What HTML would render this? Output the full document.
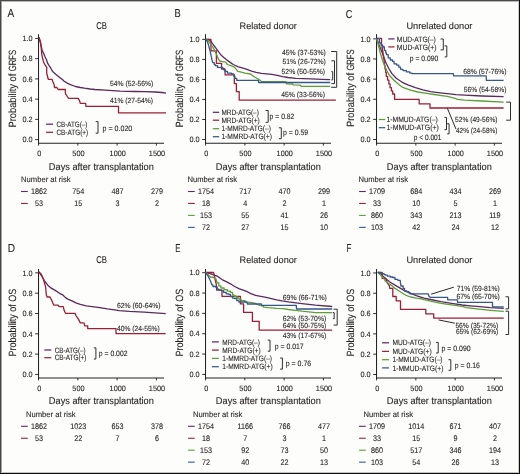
<!DOCTYPE html>
<html><head><meta charset="utf-8"><style>
html,body{margin:0;padding:0;background:#fdfdfc;width:520px;height:474px;overflow:hidden;}
svg{display:block;will-change:transform;}
text{font-family:"Liberation Sans",sans-serif;text-rendering:geometricPrecision;fill:#231f20;stroke:#231f20;stroke-width:0.1px;}
</style></head><body>
<svg width="520" height="474" viewBox="0 0 520 474">
<rect x="0" y="0" width="520" height="474" fill="#fdfdfc"/>
<line x1="38.56" y1="34.20" x2="38.56" y2="143.70" stroke="#1a1a1a" stroke-width="1.0"/>
<line x1="38.06" y1="143.20" x2="164.00" y2="143.20" stroke="#222" stroke-width="1.15"/>
<line x1="35.16" y1="139.60" x2="38.56" y2="139.60" stroke="#1a1a1a" stroke-width="0.9"/>
<text x="32.56" y="142.30" font-size="7.7" text-anchor="end" textLength="10.17" lengthAdjust="spacingAndGlyphs">0.0</text>
<line x1="35.16" y1="119.37" x2="38.56" y2="119.37" stroke="#1a1a1a" stroke-width="0.9"/>
<text x="32.56" y="122.07" font-size="7.7" text-anchor="end" textLength="10.17" lengthAdjust="spacingAndGlyphs">0.2</text>
<line x1="35.16" y1="99.14" x2="38.56" y2="99.14" stroke="#1a1a1a" stroke-width="0.9"/>
<text x="32.56" y="101.84" font-size="7.7" text-anchor="end" textLength="10.17" lengthAdjust="spacingAndGlyphs">0.4</text>
<line x1="35.16" y1="78.91" x2="38.56" y2="78.91" stroke="#1a1a1a" stroke-width="0.9"/>
<text x="32.56" y="81.61" font-size="7.7" text-anchor="end" textLength="10.17" lengthAdjust="spacingAndGlyphs">0.6</text>
<line x1="35.16" y1="58.68" x2="38.56" y2="58.68" stroke="#1a1a1a" stroke-width="0.9"/>
<text x="32.56" y="61.38" font-size="7.7" text-anchor="end" textLength="10.17" lengthAdjust="spacingAndGlyphs">0.8</text>
<line x1="35.16" y1="38.45" x2="38.56" y2="38.45" stroke="#1a1a1a" stroke-width="0.9"/>
<text x="32.56" y="41.15" font-size="7.7" text-anchor="end" textLength="10.17" lengthAdjust="spacingAndGlyphs">1.0</text>
<line x1="38.56" y1="143.20" x2="38.56" y2="145.60" stroke="#1a1a1a" stroke-width="0.9"/>
<text x="39.16" y="156.10" font-size="7.7" text-anchor="middle" textLength="4.07" lengthAdjust="spacingAndGlyphs">0</text>
<line x1="77.84" y1="143.20" x2="77.84" y2="145.60" stroke="#1a1a1a" stroke-width="0.9"/>
<text x="78.44" y="156.10" font-size="7.7" text-anchor="middle" textLength="12.20" lengthAdjust="spacingAndGlyphs">500</text>
<line x1="117.12" y1="143.20" x2="117.12" y2="145.60" stroke="#1a1a1a" stroke-width="0.9"/>
<text x="117.72" y="156.10" font-size="7.7" text-anchor="middle" textLength="16.27" lengthAdjust="spacingAndGlyphs">1000</text>
<line x1="156.40" y1="143.20" x2="156.40" y2="145.60" stroke="#1a1a1a" stroke-width="0.9"/>
<text x="157.00" y="156.10" font-size="7.7" text-anchor="middle" textLength="16.27" lengthAdjust="spacingAndGlyphs">1500</text>
<line x1="205.56" y1="34.20" x2="205.56" y2="143.70" stroke="#1a1a1a" stroke-width="1.0"/>
<line x1="205.06" y1="143.20" x2="331.00" y2="143.20" stroke="#222" stroke-width="1.15"/>
<line x1="202.16" y1="139.50" x2="205.56" y2="139.50" stroke="#1a1a1a" stroke-width="0.9"/>
<text x="199.56" y="142.20" font-size="7.7" text-anchor="end" textLength="10.17" lengthAdjust="spacingAndGlyphs">0.0</text>
<line x1="202.16" y1="119.48" x2="205.56" y2="119.48" stroke="#1a1a1a" stroke-width="0.9"/>
<text x="199.56" y="122.18" font-size="7.7" text-anchor="end" textLength="10.17" lengthAdjust="spacingAndGlyphs">0.2</text>
<line x1="202.16" y1="99.46" x2="205.56" y2="99.46" stroke="#1a1a1a" stroke-width="0.9"/>
<text x="199.56" y="102.16" font-size="7.7" text-anchor="end" textLength="10.17" lengthAdjust="spacingAndGlyphs">0.4</text>
<line x1="202.16" y1="79.44" x2="205.56" y2="79.44" stroke="#1a1a1a" stroke-width="0.9"/>
<text x="199.56" y="82.14" font-size="7.7" text-anchor="end" textLength="10.17" lengthAdjust="spacingAndGlyphs">0.6</text>
<line x1="202.16" y1="59.42" x2="205.56" y2="59.42" stroke="#1a1a1a" stroke-width="0.9"/>
<text x="199.56" y="62.12" font-size="7.7" text-anchor="end" textLength="10.17" lengthAdjust="spacingAndGlyphs">0.8</text>
<line x1="202.16" y1="39.40" x2="205.56" y2="39.40" stroke="#1a1a1a" stroke-width="0.9"/>
<text x="199.56" y="42.10" font-size="7.7" text-anchor="end" textLength="10.17" lengthAdjust="spacingAndGlyphs">1.0</text>
<line x1="205.56" y1="143.20" x2="205.56" y2="145.60" stroke="#1a1a1a" stroke-width="0.9"/>
<text x="206.16" y="156.10" font-size="7.7" text-anchor="middle" textLength="4.07" lengthAdjust="spacingAndGlyphs">0</text>
<line x1="244.84" y1="143.20" x2="244.84" y2="145.60" stroke="#1a1a1a" stroke-width="0.9"/>
<text x="245.44" y="156.10" font-size="7.7" text-anchor="middle" textLength="12.20" lengthAdjust="spacingAndGlyphs">500</text>
<line x1="284.12" y1="143.20" x2="284.12" y2="145.60" stroke="#1a1a1a" stroke-width="0.9"/>
<text x="284.72" y="156.10" font-size="7.7" text-anchor="middle" textLength="16.27" lengthAdjust="spacingAndGlyphs">1000</text>
<line x1="323.40" y1="143.20" x2="323.40" y2="145.60" stroke="#1a1a1a" stroke-width="0.9"/>
<text x="324.00" y="156.10" font-size="7.7" text-anchor="middle" textLength="16.27" lengthAdjust="spacingAndGlyphs">1500</text>
<line x1="376.56" y1="34.20" x2="376.56" y2="143.70" stroke="#1a1a1a" stroke-width="1.0"/>
<line x1="376.06" y1="143.20" x2="502.00" y2="143.20" stroke="#222" stroke-width="1.15"/>
<line x1="373.16" y1="139.50" x2="376.56" y2="139.50" stroke="#1a1a1a" stroke-width="0.9"/>
<text x="370.56" y="142.20" font-size="7.7" text-anchor="end" textLength="10.17" lengthAdjust="spacingAndGlyphs">0.0</text>
<line x1="373.16" y1="119.37" x2="376.56" y2="119.37" stroke="#1a1a1a" stroke-width="0.9"/>
<text x="370.56" y="122.07" font-size="7.7" text-anchor="end" textLength="10.17" lengthAdjust="spacingAndGlyphs">0.2</text>
<line x1="373.16" y1="99.24" x2="376.56" y2="99.24" stroke="#1a1a1a" stroke-width="0.9"/>
<text x="370.56" y="101.94" font-size="7.7" text-anchor="end" textLength="10.17" lengthAdjust="spacingAndGlyphs">0.4</text>
<line x1="373.16" y1="79.11" x2="376.56" y2="79.11" stroke="#1a1a1a" stroke-width="0.9"/>
<text x="370.56" y="81.81" font-size="7.7" text-anchor="end" textLength="10.17" lengthAdjust="spacingAndGlyphs">0.6</text>
<line x1="373.16" y1="58.98" x2="376.56" y2="58.98" stroke="#1a1a1a" stroke-width="0.9"/>
<text x="370.56" y="61.68" font-size="7.7" text-anchor="end" textLength="10.17" lengthAdjust="spacingAndGlyphs">0.8</text>
<line x1="373.16" y1="38.85" x2="376.56" y2="38.85" stroke="#1a1a1a" stroke-width="0.9"/>
<text x="370.56" y="41.55" font-size="7.7" text-anchor="end" textLength="10.17" lengthAdjust="spacingAndGlyphs">1.0</text>
<line x1="376.56" y1="143.20" x2="376.56" y2="145.60" stroke="#1a1a1a" stroke-width="0.9"/>
<text x="377.16" y="156.10" font-size="7.7" text-anchor="middle" textLength="4.07" lengthAdjust="spacingAndGlyphs">0</text>
<line x1="415.84" y1="143.20" x2="415.84" y2="145.60" stroke="#1a1a1a" stroke-width="0.9"/>
<text x="416.44" y="156.10" font-size="7.7" text-anchor="middle" textLength="12.20" lengthAdjust="spacingAndGlyphs">500</text>
<line x1="455.12" y1="143.20" x2="455.12" y2="145.60" stroke="#1a1a1a" stroke-width="0.9"/>
<text x="455.72" y="156.10" font-size="7.7" text-anchor="middle" textLength="16.27" lengthAdjust="spacingAndGlyphs">1000</text>
<line x1="494.40" y1="143.20" x2="494.40" y2="145.60" stroke="#1a1a1a" stroke-width="0.9"/>
<text x="495.00" y="156.10" font-size="7.7" text-anchor="middle" textLength="16.27" lengthAdjust="spacingAndGlyphs">1500</text>
<line x1="38.56" y1="269.00" x2="38.56" y2="378.50" stroke="#1a1a1a" stroke-width="1.0"/>
<line x1="38.06" y1="378.00" x2="164.00" y2="378.00" stroke="#222" stroke-width="1.15"/>
<line x1="35.16" y1="374.45" x2="38.56" y2="374.45" stroke="#1a1a1a" stroke-width="0.9"/>
<text x="32.56" y="377.15" font-size="7.7" text-anchor="end" textLength="10.17" lengthAdjust="spacingAndGlyphs">0.0</text>
<line x1="35.16" y1="354.13" x2="38.56" y2="354.13" stroke="#1a1a1a" stroke-width="0.9"/>
<text x="32.56" y="356.83" font-size="7.7" text-anchor="end" textLength="10.17" lengthAdjust="spacingAndGlyphs">0.2</text>
<line x1="35.16" y1="333.81" x2="38.56" y2="333.81" stroke="#1a1a1a" stroke-width="0.9"/>
<text x="32.56" y="336.51" font-size="7.7" text-anchor="end" textLength="10.17" lengthAdjust="spacingAndGlyphs">0.4</text>
<line x1="35.16" y1="313.49" x2="38.56" y2="313.49" stroke="#1a1a1a" stroke-width="0.9"/>
<text x="32.56" y="316.19" font-size="7.7" text-anchor="end" textLength="10.17" lengthAdjust="spacingAndGlyphs">0.6</text>
<line x1="35.16" y1="293.17" x2="38.56" y2="293.17" stroke="#1a1a1a" stroke-width="0.9"/>
<text x="32.56" y="295.87" font-size="7.7" text-anchor="end" textLength="10.17" lengthAdjust="spacingAndGlyphs">0.8</text>
<line x1="35.16" y1="272.85" x2="38.56" y2="272.85" stroke="#1a1a1a" stroke-width="0.9"/>
<text x="32.56" y="275.55" font-size="7.7" text-anchor="end" textLength="10.17" lengthAdjust="spacingAndGlyphs">1.0</text>
<line x1="38.56" y1="378.00" x2="38.56" y2="380.40" stroke="#1a1a1a" stroke-width="0.9"/>
<text x="39.16" y="390.90" font-size="7.7" text-anchor="middle" textLength="4.07" lengthAdjust="spacingAndGlyphs">0</text>
<line x1="77.84" y1="378.00" x2="77.84" y2="380.40" stroke="#1a1a1a" stroke-width="0.9"/>
<text x="78.44" y="390.90" font-size="7.7" text-anchor="middle" textLength="12.20" lengthAdjust="spacingAndGlyphs">500</text>
<line x1="117.12" y1="378.00" x2="117.12" y2="380.40" stroke="#1a1a1a" stroke-width="0.9"/>
<text x="117.72" y="390.90" font-size="7.7" text-anchor="middle" textLength="16.27" lengthAdjust="spacingAndGlyphs">1000</text>
<line x1="156.40" y1="378.00" x2="156.40" y2="380.40" stroke="#1a1a1a" stroke-width="0.9"/>
<text x="157.00" y="390.90" font-size="7.7" text-anchor="middle" textLength="16.27" lengthAdjust="spacingAndGlyphs">1500</text>
<line x1="205.56" y1="269.00" x2="205.56" y2="378.50" stroke="#1a1a1a" stroke-width="1.0"/>
<line x1="205.06" y1="378.00" x2="331.00" y2="378.00" stroke="#222" stroke-width="1.15"/>
<line x1="202.16" y1="374.40" x2="205.56" y2="374.40" stroke="#1a1a1a" stroke-width="0.9"/>
<text x="199.56" y="377.10" font-size="7.7" text-anchor="end" textLength="10.17" lengthAdjust="spacingAndGlyphs">0.0</text>
<line x1="202.16" y1="354.06" x2="205.56" y2="354.06" stroke="#1a1a1a" stroke-width="0.9"/>
<text x="199.56" y="356.76" font-size="7.7" text-anchor="end" textLength="10.17" lengthAdjust="spacingAndGlyphs">0.2</text>
<line x1="202.16" y1="333.72" x2="205.56" y2="333.72" stroke="#1a1a1a" stroke-width="0.9"/>
<text x="199.56" y="336.42" font-size="7.7" text-anchor="end" textLength="10.17" lengthAdjust="spacingAndGlyphs">0.4</text>
<line x1="202.16" y1="313.38" x2="205.56" y2="313.38" stroke="#1a1a1a" stroke-width="0.9"/>
<text x="199.56" y="316.08" font-size="7.7" text-anchor="end" textLength="10.17" lengthAdjust="spacingAndGlyphs">0.6</text>
<line x1="202.16" y1="293.04" x2="205.56" y2="293.04" stroke="#1a1a1a" stroke-width="0.9"/>
<text x="199.56" y="295.74" font-size="7.7" text-anchor="end" textLength="10.17" lengthAdjust="spacingAndGlyphs">0.8</text>
<line x1="202.16" y1="272.70" x2="205.56" y2="272.70" stroke="#1a1a1a" stroke-width="0.9"/>
<text x="199.56" y="275.40" font-size="7.7" text-anchor="end" textLength="10.17" lengthAdjust="spacingAndGlyphs">1.0</text>
<line x1="205.56" y1="378.00" x2="205.56" y2="380.40" stroke="#1a1a1a" stroke-width="0.9"/>
<text x="206.16" y="390.90" font-size="7.7" text-anchor="middle" textLength="4.07" lengthAdjust="spacingAndGlyphs">0</text>
<line x1="244.84" y1="378.00" x2="244.84" y2="380.40" stroke="#1a1a1a" stroke-width="0.9"/>
<text x="245.44" y="390.90" font-size="7.7" text-anchor="middle" textLength="12.20" lengthAdjust="spacingAndGlyphs">500</text>
<line x1="284.12" y1="378.00" x2="284.12" y2="380.40" stroke="#1a1a1a" stroke-width="0.9"/>
<text x="284.72" y="390.90" font-size="7.7" text-anchor="middle" textLength="16.27" lengthAdjust="spacingAndGlyphs">1000</text>
<line x1="323.40" y1="378.00" x2="323.40" y2="380.40" stroke="#1a1a1a" stroke-width="0.9"/>
<text x="324.00" y="390.90" font-size="7.7" text-anchor="middle" textLength="16.27" lengthAdjust="spacingAndGlyphs">1500</text>
<line x1="376.56" y1="269.00" x2="376.56" y2="378.50" stroke="#1a1a1a" stroke-width="1.0"/>
<line x1="376.06" y1="378.00" x2="502.00" y2="378.00" stroke="#222" stroke-width="1.15"/>
<line x1="373.16" y1="374.50" x2="376.56" y2="374.50" stroke="#1a1a1a" stroke-width="0.9"/>
<text x="370.56" y="377.20" font-size="7.7" text-anchor="end" textLength="10.17" lengthAdjust="spacingAndGlyphs">0.0</text>
<line x1="373.16" y1="354.19" x2="376.56" y2="354.19" stroke="#1a1a1a" stroke-width="0.9"/>
<text x="370.56" y="356.89" font-size="7.7" text-anchor="end" textLength="10.17" lengthAdjust="spacingAndGlyphs">0.2</text>
<line x1="373.16" y1="333.88" x2="376.56" y2="333.88" stroke="#1a1a1a" stroke-width="0.9"/>
<text x="370.56" y="336.58" font-size="7.7" text-anchor="end" textLength="10.17" lengthAdjust="spacingAndGlyphs">0.4</text>
<line x1="373.16" y1="313.57" x2="376.56" y2="313.57" stroke="#1a1a1a" stroke-width="0.9"/>
<text x="370.56" y="316.27" font-size="7.7" text-anchor="end" textLength="10.17" lengthAdjust="spacingAndGlyphs">0.6</text>
<line x1="373.16" y1="293.26" x2="376.56" y2="293.26" stroke="#1a1a1a" stroke-width="0.9"/>
<text x="370.56" y="295.96" font-size="7.7" text-anchor="end" textLength="10.17" lengthAdjust="spacingAndGlyphs">0.8</text>
<line x1="373.16" y1="272.95" x2="376.56" y2="272.95" stroke="#1a1a1a" stroke-width="0.9"/>
<text x="370.56" y="275.65" font-size="7.7" text-anchor="end" textLength="10.17" lengthAdjust="spacingAndGlyphs">1.0</text>
<line x1="376.56" y1="378.00" x2="376.56" y2="380.40" stroke="#1a1a1a" stroke-width="0.9"/>
<text x="377.16" y="390.90" font-size="7.7" text-anchor="middle" textLength="4.07" lengthAdjust="spacingAndGlyphs">0</text>
<line x1="415.84" y1="378.00" x2="415.84" y2="380.40" stroke="#1a1a1a" stroke-width="0.9"/>
<text x="416.44" y="390.90" font-size="7.7" text-anchor="middle" textLength="12.20" lengthAdjust="spacingAndGlyphs">500</text>
<line x1="455.12" y1="378.00" x2="455.12" y2="380.40" stroke="#1a1a1a" stroke-width="0.9"/>
<text x="455.72" y="390.90" font-size="7.7" text-anchor="middle" textLength="16.27" lengthAdjust="spacingAndGlyphs">1000</text>
<line x1="494.40" y1="378.00" x2="494.40" y2="380.40" stroke="#1a1a1a" stroke-width="0.9"/>
<text x="495.00" y="390.90" font-size="7.7" text-anchor="middle" textLength="16.27" lengthAdjust="spacingAndGlyphs">1500</text>
<text x="7.50" y="17.40" font-size="11.5" textLength="6.70" lengthAdjust="spacingAndGlyphs">A</text>
<text x="174.60" y="17.40" font-size="11.5" textLength="6.20" lengthAdjust="spacingAndGlyphs">B</text>
<text x="345.70" y="17.50" font-size="11.5" textLength="6.60" lengthAdjust="spacingAndGlyphs">C</text>
<text x="7.80" y="251.80" font-size="11.5" textLength="7.30" lengthAdjust="spacingAndGlyphs">D</text>
<text x="175.20" y="251.80" font-size="11.5" textLength="5.20" lengthAdjust="spacingAndGlyphs">E</text>
<text x="346.60" y="251.80" font-size="11.5" textLength="4.90" lengthAdjust="spacingAndGlyphs">F</text>
<text x="101.60" y="28.70" font-size="9.9" text-anchor="middle" textLength="10.80" lengthAdjust="spacingAndGlyphs">CB</text>
<text x="268.20" y="28.70" font-size="9.4" text-anchor="middle" textLength="57.30" lengthAdjust="spacingAndGlyphs">Related donor</text>
<text x="439.40" y="28.70" font-size="9.4" text-anchor="middle" textLength="66.00" lengthAdjust="spacingAndGlyphs">Unrelated donor</text>
<text x="101.60" y="263.00" font-size="9.9" text-anchor="middle" textLength="10.80" lengthAdjust="spacingAndGlyphs">CB</text>
<text x="268.20" y="263.00" font-size="9.4" text-anchor="middle" textLength="57.30" lengthAdjust="spacingAndGlyphs">Related donor</text>
<text x="439.40" y="263.00" font-size="9.4" text-anchor="middle" textLength="66.00" lengthAdjust="spacingAndGlyphs">Unrelated donor</text>
<text x="0" y="0" font-size="10.5" textLength="54.0" lengthAdjust="spacingAndGlyphs" transform="translate(15.90,127.60) rotate(-90)">Probability of</text>
<text x="0" y="0" font-size="10.5" textLength="21.2" lengthAdjust="spacingAndGlyphs" transform="translate(15.90,71.20) rotate(-90)">GRFS</text>
<text x="0" y="0" font-size="10.5" textLength="54.0" lengthAdjust="spacingAndGlyphs" transform="translate(183.10,127.60) rotate(-90)">Probability of</text>
<text x="0" y="0" font-size="10.5" textLength="21.2" lengthAdjust="spacingAndGlyphs" transform="translate(183.10,71.20) rotate(-90)">GRFS</text>
<text x="0" y="0" font-size="10.5" textLength="54.0" lengthAdjust="spacingAndGlyphs" transform="translate(353.90,127.00) rotate(-90)">Probability of</text>
<text x="0" y="0" font-size="10.5" textLength="21.2" lengthAdjust="spacingAndGlyphs" transform="translate(353.90,70.60) rotate(-90)">GRFS</text>
<text x="0" y="0" font-size="10.5" text-anchor="middle" textLength="68.0" lengthAdjust="spacingAndGlyphs" transform="translate(15.90,322.60) rotate(-90)">Probability of OS</text>
<text x="0" y="0" font-size="10.5" text-anchor="middle" textLength="68.0" lengthAdjust="spacingAndGlyphs" transform="translate(183.10,322.60) rotate(-90)">Probability of OS</text>
<text x="0" y="0" font-size="10.5" text-anchor="middle" textLength="68.0" lengthAdjust="spacingAndGlyphs" transform="translate(353.90,322.60) rotate(-90)">Probability of OS</text>
<text x="101.36" y="169.50" font-size="9.9" text-anchor="middle" textLength="105.00" lengthAdjust="spacingAndGlyphs">Days after transplantation</text>
<text x="268.36" y="169.50" font-size="9.9" text-anchor="middle" textLength="105.00" lengthAdjust="spacingAndGlyphs">Days after transplantation</text>
<text x="439.36" y="169.50" font-size="9.9" text-anchor="middle" textLength="105.00" lengthAdjust="spacingAndGlyphs">Days after transplantation</text>
<text x="101.36" y="404.30" font-size="9.9" text-anchor="middle" textLength="105.00" lengthAdjust="spacingAndGlyphs">Days after transplantation</text>
<text x="268.36" y="404.30" font-size="9.9" text-anchor="middle" textLength="105.00" lengthAdjust="spacingAndGlyphs">Days after transplantation</text>
<text x="439.36" y="404.30" font-size="9.9" text-anchor="middle" textLength="105.00" lengthAdjust="spacingAndGlyphs">Days after transplantation</text>
<text x="21.10" y="182.00" font-size="8.0" textLength="49.50" lengthAdjust="spacingAndGlyphs">Number at risk</text>
<line x1="21.06" y1="191.50" x2="27.76" y2="191.50" stroke="#5a2a5e" stroke-width="1.1"/>
<text x="39.06" y="194.05" font-size="8.1" text-anchor="middle" textLength="16.04" lengthAdjust="spacingAndGlyphs">1862</text>
<text x="78.34" y="194.05" font-size="8.1" text-anchor="middle" textLength="12.03" lengthAdjust="spacingAndGlyphs">754</text>
<text x="117.62" y="194.05" font-size="8.1" text-anchor="middle" textLength="12.03" lengthAdjust="spacingAndGlyphs">487</text>
<text x="156.90" y="194.05" font-size="8.1" text-anchor="middle" textLength="12.03" lengthAdjust="spacingAndGlyphs">279</text>
<line x1="21.06" y1="203.45" x2="27.76" y2="203.45" stroke="#9c1f37" stroke-width="1.1"/>
<text x="39.06" y="206.00" font-size="8.1" text-anchor="middle" textLength="8.02" lengthAdjust="spacingAndGlyphs">53</text>
<text x="78.34" y="206.00" font-size="8.1" text-anchor="middle" textLength="8.02" lengthAdjust="spacingAndGlyphs">15</text>
<text x="117.62" y="206.00" font-size="8.1" text-anchor="middle" textLength="4.01" lengthAdjust="spacingAndGlyphs">3</text>
<text x="156.90" y="206.00" font-size="8.1" text-anchor="middle" textLength="4.01" lengthAdjust="spacingAndGlyphs">2</text>
<text x="187.50" y="182.00" font-size="8.0" textLength="49.50" lengthAdjust="spacingAndGlyphs">Number at risk</text>
<line x1="188.06" y1="191.50" x2="194.76" y2="191.50" stroke="#5a2a5e" stroke-width="1.1"/>
<text x="206.06" y="194.05" font-size="8.1" text-anchor="middle" textLength="16.04" lengthAdjust="spacingAndGlyphs">1754</text>
<text x="245.34" y="194.05" font-size="8.1" text-anchor="middle" textLength="12.03" lengthAdjust="spacingAndGlyphs">717</text>
<text x="284.62" y="194.05" font-size="8.1" text-anchor="middle" textLength="12.03" lengthAdjust="spacingAndGlyphs">470</text>
<text x="323.90" y="194.05" font-size="8.1" text-anchor="middle" textLength="12.03" lengthAdjust="spacingAndGlyphs">299</text>
<line x1="188.06" y1="203.45" x2="194.76" y2="203.45" stroke="#9c1f37" stroke-width="1.1"/>
<text x="206.06" y="206.00" font-size="8.1" text-anchor="middle" textLength="8.02" lengthAdjust="spacingAndGlyphs">18</text>
<text x="245.34" y="206.00" font-size="8.1" text-anchor="middle" textLength="4.01" lengthAdjust="spacingAndGlyphs">4</text>
<text x="284.62" y="206.00" font-size="8.1" text-anchor="middle" textLength="4.01" lengthAdjust="spacingAndGlyphs">2</text>
<text x="323.90" y="206.00" font-size="8.1" text-anchor="middle" textLength="4.01" lengthAdjust="spacingAndGlyphs">1</text>
<line x1="188.06" y1="215.40" x2="194.76" y2="215.40" stroke="#5e9d3a" stroke-width="1.1"/>
<text x="206.06" y="217.95" font-size="8.1" text-anchor="middle" textLength="12.03" lengthAdjust="spacingAndGlyphs">153</text>
<text x="245.34" y="217.95" font-size="8.1" text-anchor="middle" textLength="8.02" lengthAdjust="spacingAndGlyphs">55</text>
<text x="284.62" y="217.95" font-size="8.1" text-anchor="middle" textLength="8.02" lengthAdjust="spacingAndGlyphs">41</text>
<text x="323.90" y="217.95" font-size="8.1" text-anchor="middle" textLength="8.02" lengthAdjust="spacingAndGlyphs">26</text>
<line x1="188.06" y1="227.35" x2="194.76" y2="227.35" stroke="#37578a" stroke-width="1.1"/>
<text x="206.06" y="229.90" font-size="8.1" text-anchor="middle" textLength="8.02" lengthAdjust="spacingAndGlyphs">72</text>
<text x="245.34" y="229.90" font-size="8.1" text-anchor="middle" textLength="8.02" lengthAdjust="spacingAndGlyphs">27</text>
<text x="284.62" y="229.90" font-size="8.1" text-anchor="middle" textLength="8.02" lengthAdjust="spacingAndGlyphs">15</text>
<text x="323.90" y="229.90" font-size="8.1" text-anchor="middle" textLength="8.02" lengthAdjust="spacingAndGlyphs">10</text>
<text x="358.50" y="182.00" font-size="8.0" textLength="49.50" lengthAdjust="spacingAndGlyphs">Number at risk</text>
<line x1="359.06" y1="191.50" x2="365.76" y2="191.50" stroke="#5a2a5e" stroke-width="1.1"/>
<text x="377.06" y="194.05" font-size="8.1" text-anchor="middle" textLength="16.04" lengthAdjust="spacingAndGlyphs">1709</text>
<text x="416.34" y="194.05" font-size="8.1" text-anchor="middle" textLength="12.03" lengthAdjust="spacingAndGlyphs">684</text>
<text x="455.62" y="194.05" font-size="8.1" text-anchor="middle" textLength="12.03" lengthAdjust="spacingAndGlyphs">434</text>
<text x="494.90" y="194.05" font-size="8.1" text-anchor="middle" textLength="12.03" lengthAdjust="spacingAndGlyphs">269</text>
<line x1="359.06" y1="203.45" x2="365.76" y2="203.45" stroke="#9c1f37" stroke-width="1.1"/>
<text x="377.06" y="206.00" font-size="8.1" text-anchor="middle" textLength="8.02" lengthAdjust="spacingAndGlyphs">33</text>
<text x="416.34" y="206.00" font-size="8.1" text-anchor="middle" textLength="8.02" lengthAdjust="spacingAndGlyphs">10</text>
<text x="455.62" y="206.00" font-size="8.1" text-anchor="middle" textLength="4.01" lengthAdjust="spacingAndGlyphs">5</text>
<text x="494.90" y="206.00" font-size="8.1" text-anchor="middle" textLength="4.01" lengthAdjust="spacingAndGlyphs">1</text>
<line x1="359.06" y1="215.40" x2="365.76" y2="215.40" stroke="#5e9d3a" stroke-width="1.1"/>
<text x="377.06" y="217.95" font-size="8.1" text-anchor="middle" textLength="12.03" lengthAdjust="spacingAndGlyphs">860</text>
<text x="416.34" y="217.95" font-size="8.1" text-anchor="middle" textLength="12.03" lengthAdjust="spacingAndGlyphs">343</text>
<text x="455.62" y="217.95" font-size="8.1" text-anchor="middle" textLength="12.03" lengthAdjust="spacingAndGlyphs">213</text>
<text x="494.90" y="217.95" font-size="8.1" text-anchor="middle" textLength="11.49" lengthAdjust="spacingAndGlyphs">119</text>
<line x1="359.06" y1="227.35" x2="365.76" y2="227.35" stroke="#37578a" stroke-width="1.1"/>
<text x="377.06" y="229.90" font-size="8.1" text-anchor="middle" textLength="12.03" lengthAdjust="spacingAndGlyphs">103</text>
<text x="416.34" y="229.90" font-size="8.1" text-anchor="middle" textLength="8.02" lengthAdjust="spacingAndGlyphs">42</text>
<text x="455.62" y="229.90" font-size="8.1" text-anchor="middle" textLength="8.02" lengthAdjust="spacingAndGlyphs">24</text>
<text x="494.90" y="229.90" font-size="8.1" text-anchor="middle" textLength="8.02" lengthAdjust="spacingAndGlyphs">12</text>
<text x="26.00" y="416.80" font-size="8.0" textLength="49.50" lengthAdjust="spacingAndGlyphs">Number at risk</text>
<line x1="21.06" y1="426.30" x2="27.76" y2="426.30" stroke="#5a2a5e" stroke-width="1.1"/>
<text x="39.06" y="428.85" font-size="8.1" text-anchor="middle" textLength="16.04" lengthAdjust="spacingAndGlyphs">1862</text>
<text x="78.34" y="428.85" font-size="8.1" text-anchor="middle" textLength="16.04" lengthAdjust="spacingAndGlyphs">1023</text>
<text x="117.62" y="428.85" font-size="8.1" text-anchor="middle" textLength="12.03" lengthAdjust="spacingAndGlyphs">653</text>
<text x="156.90" y="428.85" font-size="8.1" text-anchor="middle" textLength="12.03" lengthAdjust="spacingAndGlyphs">378</text>
<line x1="21.06" y1="438.25" x2="27.76" y2="438.25" stroke="#9c1f37" stroke-width="1.1"/>
<text x="39.06" y="440.80" font-size="8.1" text-anchor="middle" textLength="8.02" lengthAdjust="spacingAndGlyphs">53</text>
<text x="78.34" y="440.80" font-size="8.1" text-anchor="middle" textLength="8.02" lengthAdjust="spacingAndGlyphs">22</text>
<text x="117.62" y="440.80" font-size="8.1" text-anchor="middle" textLength="4.01" lengthAdjust="spacingAndGlyphs">7</text>
<text x="156.90" y="440.80" font-size="8.1" text-anchor="middle" textLength="4.01" lengthAdjust="spacingAndGlyphs">6</text>
<text x="192.90" y="416.80" font-size="8.0" textLength="49.50" lengthAdjust="spacingAndGlyphs">Number at risk</text>
<line x1="188.06" y1="426.30" x2="194.76" y2="426.30" stroke="#5a2a5e" stroke-width="1.1"/>
<text x="206.06" y="428.85" font-size="8.1" text-anchor="middle" textLength="16.04" lengthAdjust="spacingAndGlyphs">1754</text>
<text x="245.34" y="428.85" font-size="8.1" text-anchor="middle" textLength="15.50" lengthAdjust="spacingAndGlyphs">1166</text>
<text x="284.62" y="428.85" font-size="8.1" text-anchor="middle" textLength="12.03" lengthAdjust="spacingAndGlyphs">766</text>
<text x="323.90" y="428.85" font-size="8.1" text-anchor="middle" textLength="12.03" lengthAdjust="spacingAndGlyphs">477</text>
<line x1="188.06" y1="438.25" x2="194.76" y2="438.25" stroke="#9c1f37" stroke-width="1.1"/>
<text x="206.06" y="440.80" font-size="8.1" text-anchor="middle" textLength="8.02" lengthAdjust="spacingAndGlyphs">18</text>
<text x="245.34" y="440.80" font-size="8.1" text-anchor="middle" textLength="4.01" lengthAdjust="spacingAndGlyphs">7</text>
<text x="284.62" y="440.80" font-size="8.1" text-anchor="middle" textLength="4.01" lengthAdjust="spacingAndGlyphs">3</text>
<text x="323.90" y="440.80" font-size="8.1" text-anchor="middle" textLength="4.01" lengthAdjust="spacingAndGlyphs">1</text>
<line x1="188.06" y1="450.20" x2="194.76" y2="450.20" stroke="#5e9d3a" stroke-width="1.1"/>
<text x="206.06" y="452.75" font-size="8.1" text-anchor="middle" textLength="12.03" lengthAdjust="spacingAndGlyphs">153</text>
<text x="245.34" y="452.75" font-size="8.1" text-anchor="middle" textLength="8.02" lengthAdjust="spacingAndGlyphs">92</text>
<text x="284.62" y="452.75" font-size="8.1" text-anchor="middle" textLength="8.02" lengthAdjust="spacingAndGlyphs">73</text>
<text x="323.90" y="452.75" font-size="8.1" text-anchor="middle" textLength="8.02" lengthAdjust="spacingAndGlyphs">50</text>
<line x1="188.06" y1="462.15" x2="194.76" y2="462.15" stroke="#37578a" stroke-width="1.1"/>
<text x="206.06" y="464.70" font-size="8.1" text-anchor="middle" textLength="8.02" lengthAdjust="spacingAndGlyphs">72</text>
<text x="245.34" y="464.70" font-size="8.1" text-anchor="middle" textLength="8.02" lengthAdjust="spacingAndGlyphs">40</text>
<text x="284.62" y="464.70" font-size="8.1" text-anchor="middle" textLength="8.02" lengthAdjust="spacingAndGlyphs">22</text>
<text x="323.90" y="464.70" font-size="8.1" text-anchor="middle" textLength="8.02" lengthAdjust="spacingAndGlyphs">13</text>
<text x="363.50" y="416.80" font-size="8.0" textLength="49.50" lengthAdjust="spacingAndGlyphs">Number at risk</text>
<line x1="359.06" y1="426.30" x2="365.76" y2="426.30" stroke="#5a2a5e" stroke-width="1.1"/>
<text x="377.06" y="428.85" font-size="8.1" text-anchor="middle" textLength="16.04" lengthAdjust="spacingAndGlyphs">1709</text>
<text x="416.34" y="428.85" font-size="8.1" text-anchor="middle" textLength="16.04" lengthAdjust="spacingAndGlyphs">1014</text>
<text x="455.62" y="428.85" font-size="8.1" text-anchor="middle" textLength="12.03" lengthAdjust="spacingAndGlyphs">671</text>
<text x="494.90" y="428.85" font-size="8.1" text-anchor="middle" textLength="12.03" lengthAdjust="spacingAndGlyphs">407</text>
<line x1="359.06" y1="438.25" x2="365.76" y2="438.25" stroke="#9c1f37" stroke-width="1.1"/>
<text x="377.06" y="440.80" font-size="8.1" text-anchor="middle" textLength="8.02" lengthAdjust="spacingAndGlyphs">33</text>
<text x="416.34" y="440.80" font-size="8.1" text-anchor="middle" textLength="8.02" lengthAdjust="spacingAndGlyphs">15</text>
<text x="455.62" y="440.80" font-size="8.1" text-anchor="middle" textLength="4.01" lengthAdjust="spacingAndGlyphs">9</text>
<text x="494.90" y="440.80" font-size="8.1" text-anchor="middle" textLength="4.01" lengthAdjust="spacingAndGlyphs">2</text>
<line x1="359.06" y1="450.20" x2="365.76" y2="450.20" stroke="#5e9d3a" stroke-width="1.1"/>
<text x="377.06" y="452.75" font-size="8.1" text-anchor="middle" textLength="12.03" lengthAdjust="spacingAndGlyphs">860</text>
<text x="416.34" y="452.75" font-size="8.1" text-anchor="middle" textLength="12.03" lengthAdjust="spacingAndGlyphs">517</text>
<text x="455.62" y="452.75" font-size="8.1" text-anchor="middle" textLength="12.03" lengthAdjust="spacingAndGlyphs">346</text>
<text x="494.90" y="452.75" font-size="8.1" text-anchor="middle" textLength="12.03" lengthAdjust="spacingAndGlyphs">194</text>
<line x1="359.06" y1="462.15" x2="365.76" y2="462.15" stroke="#37578a" stroke-width="1.1"/>
<text x="377.06" y="464.70" font-size="8.1" text-anchor="middle" textLength="12.03" lengthAdjust="spacingAndGlyphs">103</text>
<text x="416.34" y="464.70" font-size="8.1" text-anchor="middle" textLength="8.02" lengthAdjust="spacingAndGlyphs">54</text>
<text x="455.62" y="464.70" font-size="8.1" text-anchor="middle" textLength="8.02" lengthAdjust="spacingAndGlyphs">26</text>
<text x="494.90" y="464.70" font-size="8.1" text-anchor="middle" textLength="8.02" lengthAdjust="spacingAndGlyphs">13</text>
<polyline points="39.00,37.50 41.00,45.00 42.10,50.20 43.50,53.10 45.00,56.80 46.50,59.80 47.60,63.20 49.10,65.70 50.60,67.90 52.00,70.50 53.50,72.30 55.70,74.20 57.90,76.00 60.20,77.90 62.40,79.50 64.20,81.20 66.50,82.60 68.20,83.70 71.00,84.90 75.50,86.50 80.30,87.50 84.40,88.20 90.00,89.00 95.00,89.50 105.00,90.20 120.00,91.10 135.00,91.50 145.00,91.70 155.00,92.00 162.00,92.50 166.00,93.20" fill="none" stroke="#5a2a5e" stroke-width="1.3" stroke-linejoin="round"/>
<polyline points="39.00,37.30 40.50,42.00 41.30,48.70 41.70,53.90 42.40,57.60 43.20,60.50 43.90,62.70 45.00,64.90 46.10,66.40 46.70,67.20 46.70,74.20 47.20,74.50 47.60,76.80 48.30,79.30 52.00,79.30 52.80,81.50 54.10,84.70 54.50,87.50 56.90,87.50 58.10,89.50 65.40,89.50 65.40,93.60 67.00,96.00 68.60,98.40 78.30,98.40 79.50,100.80 80.30,103.30 85.60,103.30 86.00,106.30 118.50,106.30 118.50,112.90 166.00,112.90" fill="none" stroke="#9c1f37" stroke-width="1.3" stroke-linejoin="round"/>
<polyline points="205.60,39.30 208.30,39.30 210.90,41.30 213.50,45.00 216.70,49.20 219.40,52.90 221.50,55.60 224.10,57.70 227.40,60.40 230.50,62.60 233.20,64.50 237.80,66.60 240.30,67.30 245.50,68.80 250.80,70.80 256.10,72.40 261.40,73.30 266.60,73.90 271.90,74.40 277.20,75.30 282.50,76.60 288.00,77.50 295.80,78.40 311.00,78.90 322.00,79.30 330.20,79.60" fill="none" stroke="#5a2a5e" stroke-width="1.3" stroke-linejoin="round"/>
<polyline points="205.60,39.30 210.90,39.30 211.00,50.80 216.40,50.80 216.40,63.30 221.60,63.30 221.60,69.10 225.10,69.10 225.10,74.90 234.30,74.90 234.30,83.60 236.40,83.60 236.40,91.70 239.20,91.70 239.20,100.20 335.90,100.20" fill="none" stroke="#9c1f37" stroke-width="1.3" stroke-linejoin="round"/>
<polyline points="205.60,39.30 206.20,39.30 208.30,40.80 210.90,44.50 213.50,48.20 215.70,52.40 217.20,56.10 218.30,59.00 219.80,61.00 222.70,61.60 225.60,62.20 227.40,64.50 230.90,65.60 234.30,67.10 236.10,69.10 237.80,71.40 241.30,72.20 245.00,73.20 250.80,74.00 252.40,75.60 255.00,77.20 257.70,78.70 259.80,80.10 261.40,81.40 285.80,81.60 286.50,83.80 292.70,84.00 293.20,84.90 300.40,85.20 301.00,86.30 330.20,86.40" fill="none" stroke="#5e9d3a" stroke-width="1.3" stroke-linejoin="round"/>
<polyline points="205.50,39.30 207.00,40.80 208.30,44.20 209.30,48.20 210.40,52.40 211.40,57.20 212.40,61.50 212.90,62.70 214.20,62.70 214.20,64.30 215.20,64.30 215.20,65.60 217.50,65.60 217.50,67.40 220.40,67.40 220.40,67.60 222.70,67.60 222.70,68.50 224.20,68.50 224.20,70.20 225.10,70.20 225.10,71.40 227.40,71.40 227.40,73.20 231.40,73.20 231.40,73.80 233.80,73.80 233.80,76.10 234.90,76.10 234.90,78.40 236.70,78.40 236.70,80.40 258.40,80.40 258.60,82.50 330.20,82.50" fill="none" stroke="#37578a" stroke-width="1.3" stroke-linejoin="round"/>
<polyline points="376.60,38.60 379.30,45.60 382.40,53.00 385.60,62.00 388.80,68.50 391.90,73.60 396.20,78.30 401.50,81.80 405.60,83.80 407.80,84.90 415.40,87.70 423.00,89.90 430.60,91.60 440.00,92.80 447.30,93.70 456.00,94.60 464.60,95.10 481.90,96.00 503.60,96.70" fill="none" stroke="#5a2a5e" stroke-width="1.3" stroke-linejoin="round"/>
<polyline points="376.60,38.40 381.50,38.40 381.50,44.50 382.00,44.50 382.00,48.00 382.50,48.00 382.50,51.50 383.00,51.50 383.00,55.00 383.50,55.00 383.50,58.50 384.00,58.50 384.00,62.00 384.50,62.00 384.50,65.50 385.00,65.50 385.00,69.00 385.70,69.00 385.70,72.50 386.30,72.50 386.30,76.30 387.60,76.30 387.60,80.10 388.90,80.10 388.90,83.90 390.10,83.90 390.10,87.70 391.40,87.70 391.40,90.90 392.70,90.90 392.70,94.00 394.60,94.00 394.60,99.40 419.20,99.40 419.20,103.90 430.00,103.90 430.00,108.00 503.60,108.00" fill="none" stroke="#9c1f37" stroke-width="1.3" stroke-linejoin="round"/>
<polyline points="376.60,38.60 378.20,44.50 380.30,53.00 382.50,60.00 384.50,65.50 386.70,70.50 389.80,75.80 394.00,80.20 398.30,84.00 402.80,87.40 410.40,90.20 418.00,92.00 426.80,93.30 434.40,94.50 440.00,95.30 447.30,96.30 454.20,98.10 457.70,99.40 464.60,100.20 481.90,101.00 503.60,102.10" fill="none" stroke="#5e9d3a" stroke-width="1.3" stroke-linejoin="round"/>
<polyline points="376.60,38.40 377.30,38.40 377.30,38.60 379.40,38.60 379.40,42.80 381.10,42.80 381.10,45.30 382.80,45.30 382.80,47.00 384.40,47.00 384.40,50.30 385.70,50.30 385.70,52.90 386.50,52.90 386.50,54.60 388.20,54.60 388.20,57.90 390.30,57.90 390.30,60.00 392.50,60.00 392.50,61.30 394.10,61.30 394.10,63.80 396.70,63.80 396.70,65.10 398.80,65.10 398.80,67.20 400.50,67.20 400.50,69.30 403.00,69.30 403.00,70.60 406.40,70.60 406.40,71.90 409.80,71.90 409.80,73.10 412.00,73.10 412.00,73.60 453.40,73.60 453.60,75.90 486.20,75.90 486.40,80.40 503.60,80.40" fill="none" stroke="#37578a" stroke-width="1.3" stroke-linejoin="round"/>
<polyline points="39.00,271.90 41.90,276.30 44.90,281.50 47.80,285.20 50.80,287.90 55.20,290.40 59.60,293.30 62.60,294.80 65.50,297.60 67.80,299.10 71.40,300.70 75.90,302.90 80.30,304.40 86.20,305.90 92.10,306.60 98.00,307.40 107.40,308.90 114.80,309.90 119.20,310.60 129.50,311.40 144.30,312.20 165.70,313.60" fill="none" stroke="#5a2a5e" stroke-width="1.3" stroke-linejoin="round"/>
<polyline points="39.00,271.90 41.20,274.10 43.40,279.30 44.90,284.50 45.60,286.70 46.30,294.80 47.10,297.00 50.00,297.00 50.80,298.50 52.20,301.40 53.70,305.10 58.20,305.10 58.90,306.60 63.30,306.60 64.10,310.30 65.50,313.30 75.10,313.30 75.90,315.50 77.40,317.70 78.80,319.90 80.30,322.90 84.00,322.90 84.70,325.80 87.70,325.80 87.70,328.60 116.00,328.60 116.00,333.60 165.70,333.60" fill="none" stroke="#9c1f37" stroke-width="1.3" stroke-linejoin="round"/>
<polyline points="205.60,272.50 209.30,273.30 213.50,274.90 217.80,276.40 222.00,279.60 226.20,281.70 230.40,283.80 234.60,286.50 238.90,288.60 243.10,290.20 247.30,291.70 250.30,293.40 255.50,295.30 260.80,296.40 266.10,297.40 271.40,298.60 276.60,299.80 281.90,300.90 288.50,301.90 301.90,303.60 315.40,305.10 332.20,306.50" fill="none" stroke="#5a2a5e" stroke-width="1.3" stroke-linejoin="round"/>
<polyline points="205.60,272.50 213.50,272.50 214.10,274.30 215.10,279.60 216.20,283.80 216.70,290.20 222.00,290.20 222.00,296.30 240.40,296.30 240.40,303.90 243.60,303.90 243.60,312.40 252.40,312.40 252.40,321.40 259.20,321.40 259.20,330.20 332.20,330.20" fill="none" stroke="#9c1f37" stroke-width="1.3" stroke-linejoin="round"/>
<polyline points="205.60,272.50 208.30,274.90 210.40,277.00 213.50,277.50 215.70,278.50 217.20,282.80 217.20,282.80 218.80,282.80 218.80,285.90 220.90,285.90 220.90,288.00 224.10,288.00 224.10,289.60 227.30,289.60 227.30,291.20 230.40,291.20 230.40,292.30 232.50,292.30 232.50,294.90 234.10,294.90 234.10,296.00 235.70,296.00 235.70,297.00 237.30,297.00 237.30,298.00 238.90,298.00 238.90,299.10 241.00,299.10 241.00,300.70 245.20,300.70 245.20,301.80 250.30,302.40 255.50,303.50 258.70,305.00 262.90,306.10 264.00,307.20 268.20,307.70 276.60,308.40 283.10,308.60 288.50,309.50 295.20,310.30 301.90,311.20 315.40,312.60 332.20,312.60" fill="none" stroke="#5e9d3a" stroke-width="1.3" stroke-linejoin="round"/>
<polyline points="205.60,272.50 208.30,276.40 210.40,280.70 212.00,284.90 212.00,284.90 213.00,284.90 213.00,286.50 215.70,286.50 215.70,287.00 217.20,287.00 217.20,289.10 218.80,289.10 218.80,290.20 221.50,290.20 221.50,290.70 223.60,290.70 223.60,292.30 226.20,292.30 226.20,293.80 228.80,293.80 228.80,294.40 230.40,294.40 230.40,296.50 232.50,296.50 232.50,298.10 234.60,298.10 234.60,298.60 236.80,298.60 236.80,300.70 238.90,300.70 238.90,302.00 246.80,302.00 247.40,304.00 261.40,304.00 261.90,305.40 296.30,305.40 296.50,309.00 332.20,309.00" fill="none" stroke="#37578a" stroke-width="1.3" stroke-linejoin="round"/>
<polyline points="377.80,272.40 381.70,275.10 385.50,278.40 390.20,282.20 395.00,285.10 399.70,287.90 404.50,290.80 408.00,292.20 412.00,293.80 416.20,295.60 420.00,296.90 424.00,298.20 430.50,299.50 441.10,301.60 451.60,303.40 462.20,305.00 470.00,305.80 476.90,306.40 490.40,307.60 503.80,308.30" fill="none" stroke="#5a2a5e" stroke-width="1.3" stroke-linejoin="round"/>
<polyline points="377.80,272.30 382.20,272.30 382.20,278.40 386.00,278.40 386.50,281.00 387.40,283.20 389.30,285.60 389.80,288.40 392.80,288.40 392.80,296.50 396.20,296.50 396.20,300.80 400.50,300.80 400.50,309.40 425.80,309.40 425.80,313.80 433.70,313.80 433.70,318.10 503.80,318.10" fill="none" stroke="#9c1f37" stroke-width="1.3" stroke-linejoin="round"/>
<polyline points="377.80,272.40 381.70,276.10 384.10,278.90 385.50,281.30 388.30,283.20 391.70,285.60 395.00,288.40 398.80,290.80 402.60,293.20 406.00,295.30 410.90,297.00 416.20,298.10 420.00,298.50 424.00,299.60 430.50,301.10 441.10,303.40 451.60,304.80 462.20,306.40 466.40,307.60 476.90,308.90 490.40,310.30 503.80,311.40" fill="none" stroke="#5e9d3a" stroke-width="1.3" stroke-linejoin="round"/>
<polyline points="377.80,272.30 379.50,272.30 379.50,273.00 381.70,273.00 381.70,273.70 384.10,273.70 384.10,274.60 385.50,274.60 385.50,275.10 387.40,275.10 387.40,276.10 390.20,276.10 390.20,277.00 392.60,277.00 392.60,277.50 394.50,277.50 394.50,277.50 395.00,277.50 395.00,279.40 397.80,279.40 397.80,280.30 400.20,280.30 400.20,280.80 400.90,286.00 403.10,286.00 403.10,288.40 404.50,288.40 404.50,290.80 406.70,290.80 406.70,291.70 408.80,291.70 408.80,292.80 409.90,292.80 409.90,293.80 428.40,293.80 428.60,295.80 430.50,297.40 447.60,297.40 447.80,299.90 457.40,299.90 457.60,302.30 492.40,302.30 492.60,306.90 503.80,306.90" fill="none" stroke="#37578a" stroke-width="1.3" stroke-linejoin="round"/>
<line x1="46.10" y1="124.20" x2="53.00" y2="124.20" stroke="#5a2a5e" stroke-width="1.25"/>
<text x="56.40" y="126.80" font-size="7.7" textLength="31.00" lengthAdjust="spacingAndGlyphs">CB-ATG(–)</text>
<line x1="46.10" y1="132.30" x2="53.00" y2="132.30" stroke="#9c1f37" stroke-width="1.25"/>
<text x="56.40" y="134.90" font-size="7.7" textLength="31.80" lengthAdjust="spacingAndGlyphs">CB-ATG(+)</text>
<polyline points="95.70,121.60 98.00,121.60 98.00,133.20 95.70,133.20" fill="none" stroke="#2e2e30" stroke-width="1.0"/>
<text x="102.50" y="130.70" font-size="7.8" textLength="29.80" lengthAdjust="spacingAndGlyphs">p = 0.020</text>
<line x1="44.30" y1="350.00" x2="51.30" y2="350.00" stroke="#5a2a5e" stroke-width="1.25"/>
<text x="54.70" y="352.60" font-size="7.7" textLength="31.00" lengthAdjust="spacingAndGlyphs">CB-ATG(–)</text>
<line x1="44.30" y1="357.70" x2="51.30" y2="357.70" stroke="#9c1f37" stroke-width="1.25"/>
<text x="54.70" y="360.30" font-size="7.7" textLength="31.80" lengthAdjust="spacingAndGlyphs">CB-ATG(+)</text>
<polyline points="93.80,347.90 95.90,347.90 95.90,359.00 93.80,359.00" fill="none" stroke="#2e2e30" stroke-width="1.0"/>
<text x="98.80" y="356.20" font-size="7.8" textLength="28.70" lengthAdjust="spacingAndGlyphs">p = 0.002</text>
<line x1="212.80" y1="112.30" x2="219.20" y2="112.30" stroke="#5a2a5e" stroke-width="1.25"/>
<text x="221.40" y="114.90" font-size="7.7" textLength="37.40" lengthAdjust="spacingAndGlyphs">MRD-ATG(–)</text>
<line x1="212.80" y1="120.20" x2="219.20" y2="120.20" stroke="#9c1f37" stroke-width="1.25"/>
<text x="221.40" y="122.80" font-size="7.7" textLength="38.40" lengthAdjust="spacingAndGlyphs">MRD-ATG(+)</text>
<line x1="212.80" y1="128.70" x2="219.20" y2="128.70" stroke="#5e9d3a" stroke-width="1.25"/>
<text x="221.40" y="131.30" font-size="7.7" textLength="49.50" lengthAdjust="spacingAndGlyphs">1-MMRD-ATG(–)</text>
<line x1="212.80" y1="136.70" x2="219.20" y2="136.70" stroke="#37578a" stroke-width="1.25"/>
<text x="221.40" y="139.30" font-size="7.7" textLength="50.60" lengthAdjust="spacingAndGlyphs">1-MMRD-ATG(+)</text>
<polyline points="265.60,110.50 268.20,110.50 268.20,122.30 265.60,122.30" fill="none" stroke="#2e2e30" stroke-width="1.0"/>
<text x="269.60" y="118.90" font-size="7.8" textLength="24.80" lengthAdjust="spacingAndGlyphs">p = 0.82</text>
<polyline points="278.90,127.80 281.30,127.80 281.30,138.70 278.90,138.70" fill="none" stroke="#2e2e30" stroke-width="1.0"/>
<text x="283.10" y="135.40" font-size="7.8" textLength="25.10" lengthAdjust="spacingAndGlyphs">p = 0.59</text>
<line x1="211.90" y1="341.90" x2="218.80" y2="341.90" stroke="#5a2a5e" stroke-width="1.25"/>
<text x="222.30" y="344.50" font-size="7.7" textLength="37.50" lengthAdjust="spacingAndGlyphs">MRD-ATG(–)</text>
<line x1="211.90" y1="350.10" x2="218.80" y2="350.10" stroke="#9c1f37" stroke-width="1.25"/>
<text x="222.30" y="352.70" font-size="7.7" textLength="38.30" lengthAdjust="spacingAndGlyphs">MRD-ATG(+)</text>
<line x1="211.90" y1="358.40" x2="218.80" y2="358.40" stroke="#5e9d3a" stroke-width="1.25"/>
<text x="222.30" y="361.00" font-size="7.7" textLength="49.70" lengthAdjust="spacingAndGlyphs">1-MMRD-ATG(–)</text>
<line x1="211.90" y1="366.70" x2="218.80" y2="366.70" stroke="#37578a" stroke-width="1.25"/>
<text x="222.30" y="369.30" font-size="7.7" textLength="50.40" lengthAdjust="spacingAndGlyphs">1-MMRD-ATG(+)</text>
<polyline points="267.80,340.10 270.00,340.10 270.00,351.20 267.80,351.20" fill="none" stroke="#2e2e30" stroke-width="1.0"/>
<text x="274.80" y="349.20" font-size="7.8" textLength="28.90" lengthAdjust="spacingAndGlyphs">p = 0.017</text>
<polyline points="280.10,358.00 282.40,358.00 282.40,369.10 280.10,369.10" fill="none" stroke="#2e2e30" stroke-width="1.0"/>
<text x="285.80" y="366.00" font-size="7.8" textLength="25.40" lengthAdjust="spacingAndGlyphs">p = 0.76</text>
<line x1="388.30" y1="38.90" x2="394.50" y2="38.90" stroke="#5a2a5e" stroke-width="1.25"/>
<text x="396.80" y="41.50" font-size="7.7" textLength="39.00" lengthAdjust="spacingAndGlyphs">MUD-ATG(–)</text>
<line x1="388.30" y1="46.90" x2="394.50" y2="46.90" stroke="#9c1f37" stroke-width="1.25"/>
<text x="396.80" y="49.50" font-size="7.7" textLength="39.80" lengthAdjust="spacingAndGlyphs">MUD-ATG(+)</text>
<polyline points="440.60,39.00 443.30,39.00 443.30,49.90 440.60,49.90" fill="none" stroke="#2e2e30" stroke-width="1.0"/>
<polyline points="444.60,45.90 446.80,45.90 446.80,56.90 444.60,56.90" fill="none" stroke="#2e2e30" stroke-width="1.0"/>
<text x="409.80" y="61.10" font-size="7.8" textLength="28.40" lengthAdjust="spacingAndGlyphs">p = 0.090</text>
<line x1="378.80" y1="119.50" x2="385.20" y2="119.50" stroke="#5e9d3a" stroke-width="1.25"/>
<text x="386.50" y="122.10" font-size="7.7" textLength="51.20" lengthAdjust="spacingAndGlyphs">1-MMUD-ATG(–)</text>
<line x1="378.80" y1="127.70" x2="385.20" y2="127.70" stroke="#37578a" stroke-width="1.25"/>
<text x="386.50" y="130.30" font-size="7.7" textLength="52.40" lengthAdjust="spacingAndGlyphs">1-MMUD-ATG(+)</text>
<polyline points="444.50,117.40 446.50,117.40 446.50,129.70 444.50,129.70" fill="none" stroke="#2e2e30" stroke-width="1.0"/>
<polyline points="447.10,123.80 449.10,123.80 449.10,133.80 447.10,133.80" fill="none" stroke="#2e2e30" stroke-width="1.0"/>
<text x="413.70" y="139.60" font-size="7.8" textLength="27.70" lengthAdjust="spacingAndGlyphs">p &lt; 0.001</text>
<line x1="382.10" y1="342.80" x2="389.00" y2="342.80" stroke="#5a2a5e" stroke-width="1.25"/>
<text x="392.40" y="345.40" font-size="7.7" textLength="38.60" lengthAdjust="spacingAndGlyphs">MUD-ATG(–)</text>
<line x1="382.10" y1="351.40" x2="389.00" y2="351.40" stroke="#9c1f37" stroke-width="1.25"/>
<text x="392.40" y="354.00" font-size="7.7" textLength="39.30" lengthAdjust="spacingAndGlyphs">MUD-ATG(+)</text>
<line x1="382.10" y1="359.70" x2="389.00" y2="359.70" stroke="#5e9d3a" stroke-width="1.25"/>
<text x="392.40" y="362.30" font-size="7.7" textLength="50.20" lengthAdjust="spacingAndGlyphs">1-MMUD-ATG(–)</text>
<line x1="382.10" y1="367.90" x2="389.00" y2="367.90" stroke="#37578a" stroke-width="1.25"/>
<text x="392.40" y="370.50" font-size="7.7" textLength="51.10" lengthAdjust="spacingAndGlyphs">1-MMUD-ATG(+)</text>
<polyline points="436.00,342.40 438.20,342.40 438.20,353.00 436.00,353.00" fill="none" stroke="#2e2e30" stroke-width="1.0"/>
<text x="441.50" y="351.30" font-size="7.8" textLength="29.10" lengthAdjust="spacingAndGlyphs">p = 0.090</text>
<polyline points="448.50,359.70 450.80,359.70 450.80,370.30 448.50,370.30" fill="none" stroke="#2e2e30" stroke-width="1.0"/>
<text x="454.80" y="368.30" font-size="7.8" textLength="25.00" lengthAdjust="spacingAndGlyphs">p = 0.16</text>
<text x="110.00" y="85.50" font-size="7.4" textLength="43.20" lengthAdjust="spacingAndGlyphs">54% (52-56%)</text>
<text x="110.00" y="103.20" font-size="7.4" textLength="43.00" lengthAdjust="spacingAndGlyphs">41% (27-54%)</text>
<text x="281.90" y="54.90" font-size="7.4" textLength="43.90" lengthAdjust="spacingAndGlyphs">45% (37-53%)</text>
<text x="282.40" y="64.40" font-size="7.4" textLength="43.40" lengthAdjust="spacingAndGlyphs">51% (26-72%)</text>
<text x="281.60" y="73.80" font-size="7.4" textLength="43.40" lengthAdjust="spacingAndGlyphs">52% (50-55%)</text>
<text x="281.20" y="97.20" font-size="7.4" textLength="43.80" lengthAdjust="spacingAndGlyphs">45% (33-56%)</text>
<text x="463.20" y="73.80" font-size="7.4" textLength="43.30" lengthAdjust="spacingAndGlyphs">68% (57-76%)</text>
<text x="463.70" y="92.40" font-size="7.4" textLength="42.80" lengthAdjust="spacingAndGlyphs">56% (54-58%)</text>
<text x="455.10" y="122.30" font-size="7.4" textLength="42.40" lengthAdjust="spacingAndGlyphs">52% (49-56%)</text>
<text x="456.00" y="132.70" font-size="7.4" textLength="41.50" lengthAdjust="spacingAndGlyphs">42% (24-58%)</text>
<text x="117.00" y="307.80" font-size="7.4" textLength="43.60" lengthAdjust="spacingAndGlyphs">62% (60-64%)</text>
<text x="117.00" y="330.70" font-size="7.4" textLength="42.80" lengthAdjust="spacingAndGlyphs">40% (24-55%)</text>
<text x="282.80" y="299.70" font-size="7.4" textLength="44.00" lengthAdjust="spacingAndGlyphs">69% (66-71%)</text>
<text x="282.80" y="321.00" font-size="7.4" textLength="43.40" lengthAdjust="spacingAndGlyphs">62% (53-70%)</text>
<text x="282.80" y="328.00" font-size="7.4" textLength="43.40" lengthAdjust="spacingAndGlyphs">64% (50-75%)</text>
<text x="282.80" y="338.10" font-size="7.4" textLength="43.40" lengthAdjust="spacingAndGlyphs">43% (17-67%)</text>
<text x="456.70" y="290.70" font-size="7.4" textLength="43.10" lengthAdjust="spacingAndGlyphs">71% (59-81%)</text>
<text x="456.50" y="299.40" font-size="7.4" textLength="43.30" lengthAdjust="spacingAndGlyphs">67% (65-70%)</text>
<text x="455.40" y="327.70" font-size="7.4" textLength="42.80" lengthAdjust="spacingAndGlyphs">56% (35-72%)</text>
<text x="456.00" y="334.40" font-size="7.4" textLength="42.20" lengthAdjust="spacingAndGlyphs">65% (62-69%)</text>
<polyline points="331.10,51.50 336.70,51.50 336.70,87.30 331.10,87.30" fill="none" stroke="#2e2e30" stroke-width="1.0"/>
<polyline points="331.40,60.80 334.50,60.80 334.50,83.60 331.40,83.60" fill="none" stroke="#2e2e30" stroke-width="1.0"/>
<polyline points="331.40,71.60 332.70,71.60 332.70,79.90 331.40,79.90" fill="none" stroke="#2e2e30" stroke-width="1.0"/>
<polyline points="506.20,102.10 510.50,102.10 510.50,120.20 506.20,120.20" fill="none" stroke="#2e2e30" stroke-width="1.0"/>
<polyline points="332.90,312.60 334.20,312.60 334.20,318.70 332.90,318.70" fill="none" stroke="#2e2e30" stroke-width="1.0"/>
<polyline points="333.60,309.20 337.20,309.20 337.20,325.10 333.60,325.10" fill="none" stroke="#2e2e30" stroke-width="1.0"/>
<polyline points="505.50,296.80 508.60,296.80 508.60,308.90 505.50,308.90" fill="none" stroke="#2e2e30" stroke-width="1.0"/>
<polyline points="505.50,311.20 508.60,311.20 508.60,334.50 505.50,334.50" fill="none" stroke="#2e2e30" stroke-width="1.0"/>
<line x1="447.30" y1="108.10" x2="456.00" y2="129.20" stroke="#1e1e1e" stroke-width="0.95"/>
<line x1="431.10" y1="294.20" x2="453.80" y2="287.20" stroke="#1e1e1e" stroke-width="0.95"/>
<line x1="438.50" y1="319.90" x2="454.80" y2="323.20" stroke="#1e1e1e" stroke-width="0.95"/>
<rect x="0" y="1" width="520" height="1" fill="#b8b8b6"/>
<rect x="1" y="0" width="1" height="474" fill="#a3a3a3"/>
<rect x="518" y="0" width="1" height="474" fill="#cdcdcd"/>
<rect x="0" y="472" width="520" height="1" fill="#c2c2c2"/>
<rect x="0" y="0" width="1" height="474" fill="#474747"/>
<rect x="0" y="0" width="520" height="1" fill="#4a4a47"/>
<rect x="519" y="0" width="1" height="474" fill="#0c0c0c"/>
<rect x="0" y="473" width="520" height="1" fill="#0c0c0c"/>
</svg></body></html>
